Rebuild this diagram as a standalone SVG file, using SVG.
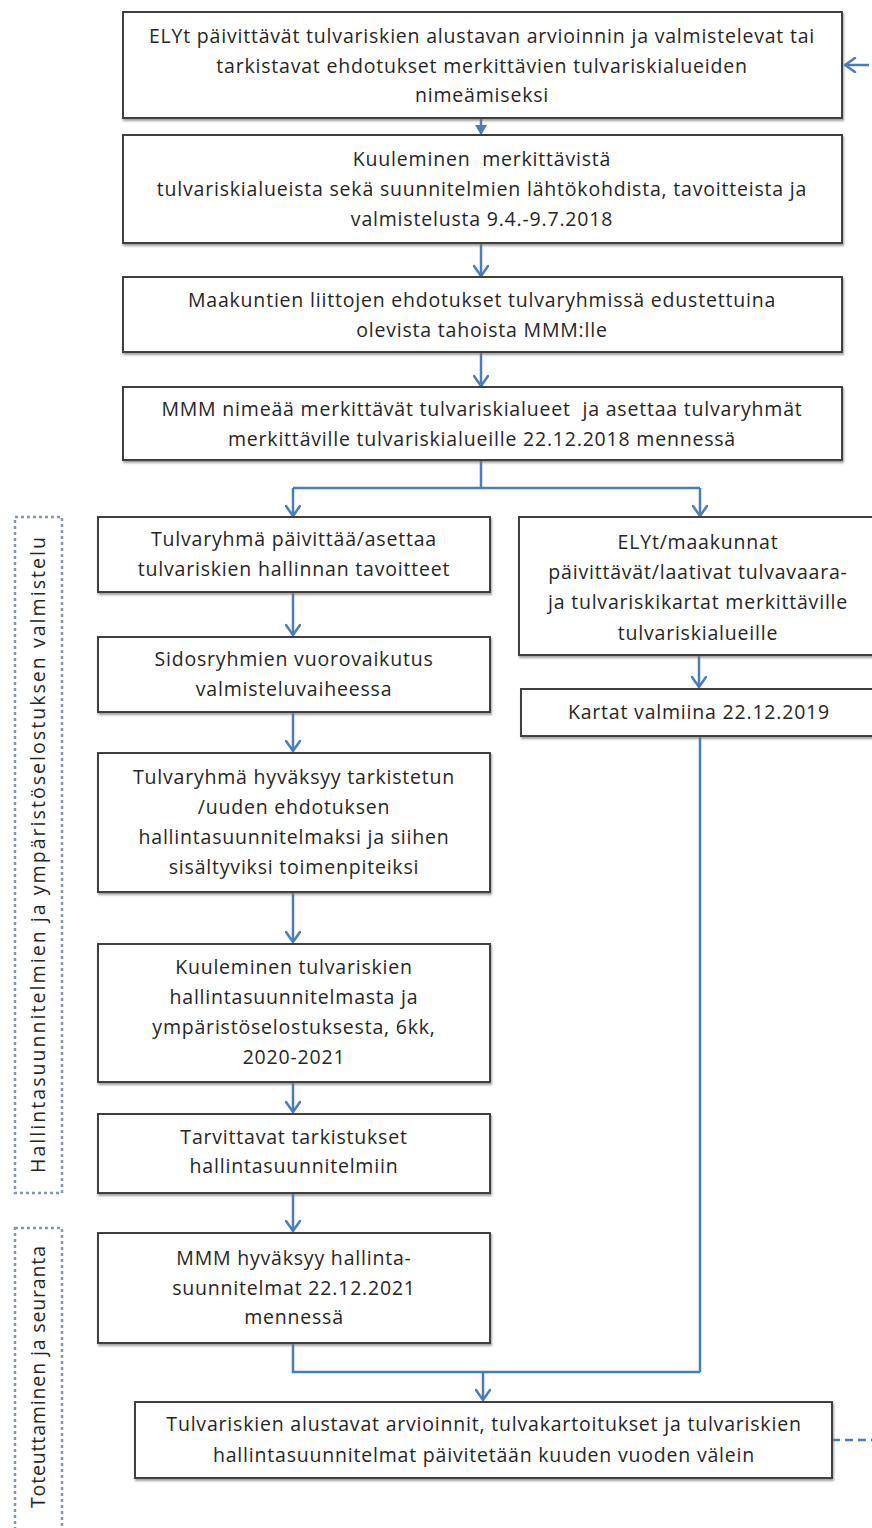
<svg xmlns="http://www.w3.org/2000/svg" width="872" height="1528" viewBox="0 0 872 1528">
<defs>
<style>
.box{fill:#ffffff;stroke:#404040;stroke-width:2;filter:url(#sh)}
.t{font-family:"Open Sans","Liberation Sans",Arial,sans-serif;font-size:19.5px;fill:#262626;text-anchor:middle;letter-spacing:0.8px}
.vt{font-family:"Open Sans","Liberation Sans",Arial,sans-serif;font-size:19.5px;fill:#262626;text-anchor:middle}
.c{fill:none;stroke:#4a7ebb;stroke-width:2.5}
.brk{fill:none;stroke:#8497b0;stroke-width:2.5;stroke-dasharray:3 3}
</style>
<filter id="sh" x="-5%" y="-5%" width="110%" height="115%">
<feDropShadow dx="1" dy="2" stdDeviation="0.8" flood-color="#777" flood-opacity="0.7"/>
</filter>
<marker id="a" viewBox="0 0 14 16" refX="12" refY="8" markerWidth="14" markerHeight="16" markerUnits="userSpaceOnUse" orient="auto">
<path d="M2,1 L12,8 L2,15" fill="none" stroke="#4a7ebb" stroke-width="2.5" stroke-linecap="round" stroke-linejoin="round"/>
</marker>
<marker id="af" viewBox="0 0 10 12" refX="10" refY="6" markerWidth="10" markerHeight="12" markerUnits="userSpaceOnUse" orient="auto">
<path d="M0,0 L10,6 L0,12 Z" fill="#4a7ebb"/>
</marker>
</defs>
<rect width="872" height="1528" fill="#ffffff"/>

<g id="bracket1">
<rect class="brk" x="15" y="517" width="47" height="676"/>
<text class="vt" transform="translate(45,855) rotate(-90)" textLength="636">Hallintasuunnitelmien ja ympäristöselostuksen valmistelu</text>
</g>
<g id="bracket2">
<rect class="brk" x="15" y="1228" width="47" height="320"/>
<text class="vt" transform="translate(45,1377) rotate(-90)" textLength="262">Toteuttaminen ja seuranta</text>
</g>

<g id="connectors">
<path class="c" d="M481,118 V135" marker-end="url(#af)"/>
<path class="c" d="M481,243 V276" marker-end="url(#a)"/>
<path class="c" d="M481,352 V386" marker-end="url(#a)"/>
<path class="c" d="M481,460 V488 M293,488 H700"/>
<path class="c" d="M293,488 V516" marker-end="url(#a)"/>
<path class="c" d="M700,488 V516" marker-end="url(#a)"/>
<path class="c" d="M293,592 V635" marker-end="url(#a)"/>
<path class="c" d="M293,712 V751" marker-end="url(#a)"/>
<path class="c" d="M293,892 V942" marker-end="url(#a)"/>
<path class="c" d="M293,1082 V1112" marker-end="url(#a)"/>
<path class="c" d="M293,1193 V1231" marker-end="url(#a)"/>
<path class="c" d="M699,655 V687" marker-end="url(#a)"/>
<path class="c" d="M293,1343 V1372 H700 M700,736 V1372"/>
<path class="c" d="M483,1372 V1400" marker-end="url(#a)"/>
<path class="c" d="M869,65 H845" marker-end="url(#a)"/>
<path class="c" d="M832,1440 H872" stroke-dasharray="8 5" stroke="#7f9bc4"/>
</g>

<g id="n1">
<rect class="box" x="123" y="12" width="719" height="106"/>
<text class="t" x="482" y="43">ELYt päivittävät tulvariskien alustavan arvioinnin ja valmistelevat tai</text>
<text class="t" x="482" y="73">tarkistavat ehdotukset merkittävien tulvariskialueiden</text>
<text class="t" x="482" y="102">nimeämiseksi</text>
</g>
<g id="n2">
<rect class="box" x="123" y="135" width="719" height="108"/>
<text class="t" x="482" y="166" xml:space="preserve">Kuuleminen  merkittävistä</text>
<text class="t" x="482" y="196">tulvariskialueista sekä suunnitelmien lähtökohdista, tavoitteista ja</text>
<text class="t" x="482" y="226">valmistelusta 9.4.-9.7.2018</text>
</g>
<g id="n3">
<rect class="box" x="123" y="277" width="719" height="75"/>
<text class="t" x="482" y="307">Maakuntien liittojen ehdotukset tulvaryhmissä edustettuina</text>
<text class="t" x="482" y="337">olevista tahoista MMM:lle</text>
</g>
<g id="n4">
<rect class="box" x="123" y="387" width="719" height="73"/>
<text class="t" x="482" y="416" xml:space="preserve">MMM nimeää merkittävät tulvariskialueet  ja asettaa tulvaryhmät</text>
<text class="t" x="482" y="446">merkittäville tulvariskialueille 22.12.2018 mennessä</text>
</g>

<g id="l1">
<rect class="box" x="98" y="517" width="392" height="75"/>
<text class="t" x="294" y="546">Tulvaryhmä päivittää/asettaa</text>
<text class="t" x="294" y="576">tulvariskien hallinnan tavoitteet</text>
</g>
<g id="l2">
<rect class="box" x="98" y="637" width="392" height="75"/>
<text class="t" x="294" y="666">Sidosryhmien vuorovaikutus</text>
<text class="t" x="294" y="696">valmisteluvaiheessa</text>
</g>
<g id="l3">
<rect class="box" x="98" y="753" width="392" height="139"/>
<text class="t" x="294" y="784">Tulvaryhmä hyväksyy tarkistetun</text>
<text class="t" x="294" y="814">/uuden ehdotuksen</text>
<text class="t" x="294" y="844">hallintasuunnitelmaksi ja siihen</text>
<text class="t" x="294" y="874">sisältyviksi toimenpiteiksi</text>
</g>
<g id="l4">
<rect class="box" x="98" y="944" width="392" height="138"/>
<text class="t" x="294" y="974">Kuuleminen tulvariskien</text>
<text class="t" x="294" y="1004">hallintasuunnitelmasta ja</text>
<text class="t" x="294" y="1034">ympäristöselostuksesta, 6kk,</text>
<text class="t" x="294" y="1064">2020-2021</text>
</g>
<g id="l5">
<rect class="box" x="98" y="1114" width="392" height="79"/>
<text class="t" x="294" y="1144">Tarvittavat tarkistukset</text>
<text class="t" x="294" y="1173">hallintasuunnitelmiin</text>
</g>
<g id="l6">
<rect class="box" x="98" y="1233" width="392" height="110"/>
<text class="t" x="294" y="1265">MMM hyväksyy hallinta-</text>
<text class="t" x="294" y="1295">suunnitelmat 22.12.2021</text>
<text class="t" x="294" y="1324">mennessä</text>
</g>

<g id="r1">
<rect class="box" x="519" y="517" width="358" height="138"/>
<text class="t" x="698" y="549">ELYt/maakunnat</text>
<text class="t" x="698" y="579">päivittävät/laativat tulvavaara-</text>
<text class="t" x="698" y="609">ja tulvariskikartat merkittäville</text>
<text class="t" x="698" y="640">tulvariskialueille</text>
</g>
<g id="r2">
<rect class="box" x="521" y="689" width="356" height="47"/>
<text class="t" x="699" y="719">Kartat valmiina 22.12.2019</text>
</g>

<g id="bottom">
<rect class="box" x="135" y="1402" width="697" height="76"/>
<text class="t" x="484" y="1431">Tulvariskien alustavat arvioinnit, tulvakartoitukset ja tulvariskien</text>
<text class="t" x="484" y="1462">hallintasuunnitelmat päivitetään kuuden vuoden välein</text>
</g>
</svg>
